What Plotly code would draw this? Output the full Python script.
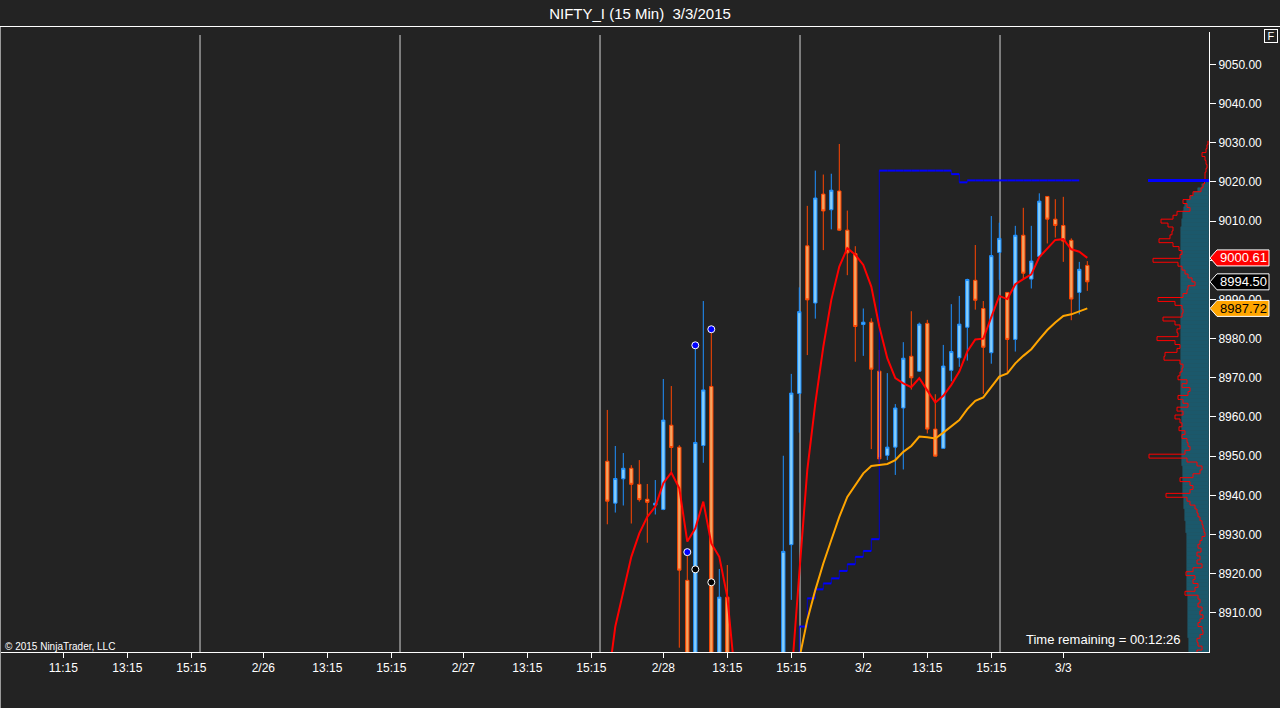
import plotly.graph_objects as go

BG = "#232323"
FONT = "Liberation Sans, Arial, sans-serif"

# ---------------- data ----------------
bars_per_day = 25
session_days = ["2/25", "2/26", "2/27", "2/28", "3/2", "3/3"]

# 15-minute OHLC, sessions 2/28 (day 3), 3/2 (day 4), 3/3 (day 5, forming)
feb28_open = [8948.7, 8938.0, 8944.2, 8946.9, 8942.8, 8939.0, 8937.5, 8936.4, 8957.9, 8952.3,
              8918.3, 8876.0, 8952.7, 8967.8, 8884.0, 8914.0, 8872.0, 8848.0, 8838.0, 8852.0,
              8843.0, 8836.0, 8866.0, 8927.4, 8966.0]
feb28_high = [8961.8, 8952.6, 8950.8, 8947.7, 8949.0, 8942.9, 8943.9, 8969.7, 8967.9, 8952.8,
              8924.5, 8979.0, 8989.6, 8982.5, 8921.2, 8922.2, 8893.0, 8866.0, 8858.0, 8870.0,
              8860.0, 8872.0, 8950.1, 8971.0, 8993.1]
feb28_low = [8932.6, 8935.6, 8937.4, 8932.8, 8938.4, 8927.9, 8935.1, 8936.2, 8946.0, 8901.1,
             8868.0, 8862.0, 8948.3, 8872.0, 8870.0, 8866.0, 8840.0, 8828.0, 8822.0, 8840.0,
             8830.0, 8832.0, 8860.0, 8913.3, 8956.0]
feb28_close = [8938.5, 8944.3, 8946.9, 8942.8, 8938.9, 8938.2, 8938.0, 8959.2, 8952.2, 8920.9,
               8876.0, 8953.5, 8966.9, 8884.0, 8914.0, 8872.0, 8848.0, 8838.0, 8852.0, 8843.0,
               8836.0, 8866.0, 8925.7, 8966.1, 8986.9]

mar02_open = [9003.7, 8989.1, 9016.9, 9012.9, 9017.7, 9007.7, 9001.7, 8983.6, 8984.2, 8971.7,
              8950.2, 8952.3, 8962.3, 8975.5, 8971.7, 8983.9, 8956.9, 8952.0, 8971.9, 8975.1,
              8982.9, 8994.9, 8987.7, 8976.4, 9002.0]
mar02_high = [9013.9, 9022.9, 9021.9, 9022.1, 9029.7, 9012.7, 9003.6, 8987.7, 8985.2, 8977.1,
              8971.2, 8963.3, 8979.1, 8987.0, 8984.1, 8984.8, 8965.8, 8978.4, 8988.8, 8990.9,
              8995.3, 9003.9, 8989.6, 9011.3, 9009.6]
mar02_low = [8975.8, 8985.1, 9002.6, 9007.9, 9007.5, 8996.2, 8974.1, 8975.6, 8951.8, 8948.2,
             8949.0, 8945.2, 8946.6, 8967.0, 8971.5, 8955.8, 8950.0, 8952.0, 8969.1, 8972.8,
             8974.4, 8987.4, 8965.9, 8973.6, 8995.0]
mar02_close = [8989.9, 9015.9, 9012.6, 9017.9, 9007.7, 9001.9, 8983.1, 8984.2, 8972.2, 8949.3,
               8952.3, 8962.3, 8975.0, 8970.0, 8983.7, 8956.9, 8950.0, 8973.0, 8976.7, 8983.7,
               8995.1, 8989.8, 8977.8, 9001.2, 9005.6]

mar03_open = [8991.8, 8979.8, 9006.4, 8995.2, 9001.0, 9016.3, 9010.5, 9008.9, 9005.1, 8991.8, 8998.7]
mar03_high = [8991.8, 9008.8, 9013.4, 9008.8, 9017.1, 9016.4, 9015.6, 9016.2, 9005.6, 8999.6, 8999.8]
mar03_low = [8971.1, 8976.7, 8995.0, 8992.8, 9001.0, 9004.3, 9005.8, 8999.6, 8984.7, 8986.2, 8992.2]
mar03_close = [8979.8, 9006.4, 8996.7, 8999.8, 9015.1, 9010.5, 9008.9, 9004.9, 8990.1, 8997.7, 8994.5]

# fast (red) and slow (orange) moving averages, per bar
feb28_fast = [8891.0, 8906.5, 8915.4, 8924.3, 8930.3, 8934.5, 8937.1, 8943.1, 8945.8, 8941.8,
              8928.2, 8931.6, 8938.4, 8927.7, 8924.3, 8914.1, 8893.0, 8878.0, 8866.0, 8858.0,
              8850.0, 8842.0, 8863.0, 8893.0, 8920.1]
mar02_fast = [8946.5, 8963.5, 8977.9, 8989.9, 8998.4, 9003.1, 9001.4, 8998.8, 8993.3, 8983.1,
              8975.0, 8969.9, 8968.6, 8967.6, 8969.9, 8966.8, 8963.7, 8965.4, 8968.2, 8971.6,
              8976.7, 8979.8, 8980.0, 8985.5, 8990.9]
mar03_fast = [8990.1, 8993.9, 8995.2, 8996.4, 9000.8, 9003.1, 9005.2, 9005.4, 9002.8, 9002.2, 9000.61]

feb28_slow = [None] * 22 + [8884.0, 8890.0, 8898.3]
mar02_slow = [8908.2, 8915.8, 8922.6, 8928.6, 8934.5, 8939.6, 8942.6, 8945.6, 8947.5, 8947.7,
              8948.0, 8949.0, 8951.1, 8952.6, 8955.0, 8954.8, 8954.5, 8956.0, 8957.5, 8959.2,
              8962.0, 8964.1, 8965.0, 8967.6, 8970.3]
mar03_slow = [8971.1, 8973.7, 8975.6, 8977.3, 8979.8, 8982.2, 8984.1, 8985.8, 8986.2, 8986.9, 8987.72]

# blue stepped stop line
feb28_stop = [None] * 23 + [8895.0, 8906.5]
mar02_stop = [8913.7, 8916.0, 8917.5, 8918.8, 8920.7, 8922.4, 8924.3, 8925.8, 8928.8, 9022.9,
              9022.9, 9022.9, 9022.9, 9022.9, 9022.9, 9022.9, 9022.9, 9022.9, 9022.0, 9019.9,
              9020.4, 9020.4, 9020.4, 9020.4, 9020.4]
mar03_stop = [9020.4, 9020.4, 9020.4, 9020.4, 9020.4, 9020.4, 9020.4, 9020.4, 9020.4, 9020.4, None]

# swing markers (session index, bar slot, price)
blue_dots = [(3, 11, 8925.5), (3, 12, 8978.3), (3, 14, 8982.4)]
black_dots = [(3, 12, 8921.1), (3, 14, 8917.8)]

# x-axis labels (bar slots 8, 16, 24 of each session)
tick_slots = [8, 16, 24]
tick_labels = ["11:15", "13:15", "15:15", "2/26", "13:15", "15:15", "2/27", "13:15", "15:15",
               "2/28", "13:15", "15:15", "3/2", "13:15", "15:15", "3/3"]
y_tick_values = [8910, 8920, 8930, 8940, 8950, 8960, 8970, 8980, 8990, 9000,
                 9010, 9020, 9030, 9040, 9050]

# volume profile (1-point levels from 8900 upward)
profile_low = 8900
profile_volume = [12, 7, 11, 12, 9, 6, 7, 11, 9, 6,
                  9, 7, 11, 9, 11, 24, 14, 11, 16, 14,
                  23, 16, 7, 12, 9, 12, 8, 11, 9, 7,
                  4, 5, 6, 7, 9, 11, 12, 14, 19, 22,
                  43, 19, 16, 19, 29, 16, 9, 7, 12, 22,
                  60, 24, 19, 21, 22, 27, 24, 30, 27, 29,
                  34, 26, 32, 21, 26, 31, 21, 19, 27, 22,
                  31, 29, 27, 26, 29, 45, 44, 32, 29, 34,
                  52, 31, 32, 29, 34, 46, 27, 26, 27, 34,
                  51, 26, 22, 21, 14, 17, 21, 24, 27, 31,
                  56, 29, 27, 30, 36, 50, 39, 37, 36, 41,
                  48, 36, 32, 19, 22, 26, 19, 16, 8, 6,
                  4.5, 4, 4, 3, 2, 3, 4, 7, 3, 2, 1]
profile_base = [20, 20, 20, 20, 21, 21, 21, 21, 21, 21, 21, 21, 21, 21, 21, 22,
                22, 22, 22, 22, 22, 22, 22, 22, 22, 22, 22, 22, 22, 22, 22,
                23, 23, 23, 24, 24, 24, 25, 25, 25, 26, 26, 26, 26, 26, 26,
                26, 26, 27, 27, 27, 27, 27, 27, 27, 27, 27, 27, 27, 27, 27,
                27, 28, 28, 28, 28, 28, 28, 28, 28, 28, 28, 28, 28, 28, 28,
                28, 28, 28, 28, 28, 28, 28, 28, 28, 28, 28, 28, 28, 28, 28,
                28, 28, 28, 28, 28, 28, 28, 28, 28, 28, 28, 28, 28, 28, 28,
                28, 28, 28, 27, 27, 26, 26,
                25, 24, 22, 19, 15, 11, 7, 3]
poc_len = 61

# ---------------- geometry helpers ----------------
W, H = 1280, 708
ML, MR, MT, MB = 1, 71, 32, 56
PW, PH = W - ML - MR, H - MT - MB
BAR_PX = 8
X0 = (ML + 0.7) / BAR_PX
X1 = X0 + PW / BAR_PX
Y0 = 8900.0
PX_PER_PT = 3.917
Y1 = Y0 + PH / PX_PER_PT


def px(x):
    return (x - ML) / PW


def py(y):
    return (H - MB - y) / PH


def bar_x(day, slot):
    return day * bars_per_day + slot


def day_x(day, n):
    return [bar_x(day, k + 1) for k in range(n)]


xs = day_x(3, 25) + day_x(4, 25) + day_x(5, 11)
o = feb28_open + mar02_open + mar03_open
h = feb28_high + mar02_high + mar03_high
l = feb28_low + mar02_low + mar03_low
c = feb28_close + mar02_close + mar03_close
fast = feb28_fast + mar02_fast + mar03_fast
slow = feb28_slow + mar02_slow + mar03_slow
stop = feb28_stop + mar02_stop + mar03_stop

fig = go.Figure()

# volume profile (overlay axis measured from the price axis leftwards)
levels = [profile_low + i for i in range(len(profile_volume))]
base_levels = [profile_low + i for i in range(len(profile_base))]
fig.add_trace(go.Bar(x=profile_base, y=base_levels, orientation="h", width=1,
                     marker=dict(color="#1B586B", line=dict(color="#225F73", width=0.5)),
                     xaxis="x2", yaxis="y", hoverinfo="skip", showlegend=False))
step_y = [v - 0.5 for v in levels] + [levels[-1] + 0.5]
step_x = profile_volume + [profile_volume[-1]]
fig.add_trace(go.Scatter(x=step_x, y=step_y, mode="lines", line=dict(color="#FF0000", width=1, shape="vh"),
                         xaxis="x2", yaxis="y", hoverinfo="skip", showlegend=False))
fig.add_trace(go.Scatter(x=[0, poc_len], y=[stop[-2], stop[-2]], mode="lines",
                         line=dict(color="#0000FF", width=3), xaxis="x2", yaxis="y",
                         hoverinfo="skip", showlegend=False))

# stepped stop line: horizontal runs (thicker) and vertical jumps (thin)
hx, hy, vx, vy = [], [], [], []
for i in range(len(xs) - 1):
    if stop[i] is None or stop[i + 1] is None:
        continue
    hx += [xs[i], xs[i + 1], None]
    hy += [stop[i], stop[i], None]
    vx += [xs[i + 1], xs[i + 1], None]
    vy += [stop[i], stop[i + 1], None]
fig.add_trace(go.Scatter(x=vx, y=vy, mode="lines", line=dict(color="#0000CC", width=1),
                         hoverinfo="skip", showlegend=False))
fig.add_trace(go.Scatter(x=hx, y=hy, mode="lines", line=dict(color="#0000FF", width=2),
                         hoverinfo="skip", showlegend=False))

fig.add_trace(go.Candlestick(
    x=xs, open=o, high=h, low=l, close=c,
    increasing=dict(line=dict(color="#1E90FF", width=1), fillcolor="#87CEFA"),
    decreasing=dict(line=dict(color="#FF4500", width=1), fillcolor="#F4A460"),
    whiskerwidth=0, hoverinfo="skip", showlegend=False))

fig.add_trace(go.Scatter(x=xs, y=slow, mode="lines", line=dict(color="#FFA500", width=2),
                         hoverinfo="skip", showlegend=False))
fig.add_trace(go.Scatter(x=xs, y=fast, mode="lines", line=dict(color="#FF0000", width=2),
                         hoverinfo="skip", showlegend=False))
fig.add_trace(go.Scatter(x=[bar_x(d, k) for d, k, _ in blue_dots], y=[p for _, _, p in blue_dots],
                         mode="markers", marker=dict(size=7, color="#0000FF", line=dict(color="white", width=1)),
                         hoverinfo="skip", showlegend=False))
fig.add_trace(go.Scatter(x=[bar_x(d, k) for d, k, _ in black_dots], y=[p for _, _, p in black_dots],
                         mode="markers", marker=dict(size=7, color="#000000", line=dict(color="white", width=1)),
                         hoverinfo="skip", showlegend=False))

tick_vals = [bar_x(d, s) for d in range(len(session_days)) for s in tick_slots][:len(tick_labels)]

shapes = []
# session separators
for d in range(len(session_days) - 1):
    xb = bar_x(d, bars_per_day) + 0.09
    shapes.append(dict(type="line", xref="x", yref="paper", x0=xb, x1=xb, y0=0, y1=py(35),
                       line=dict(color="#D4D4D4", width=1), layer="below"))
# panel border lines
shapes.append(dict(type="line", xref="paper", yref="paper", x0=px(0), x1=px(W), y0=py(26.5), y1=py(26.5),
                   line=dict(color="#FFFFFF", width=1)))
shapes.append(dict(type="line", xref="paper", yref="paper", x0=px(0.5), x1=px(0.5), y0=py(27), y1=py(H),
                   line=dict(color="#9A9A9A", width=1)))

annotations = []


def price_tag(price, fill, txt):
    shapes.append(dict(type="path", xref="paper", yref="y", xsizemode="pixel", ysizemode="pixel",
                       xanchor=1, yanchor=price, path="M 1,0 L 8,8 L 60,8 L 60,-8 L 8,-8 Z",
                       fillcolor=fill, line=dict(color="#FFFFFF", width=1), layer="above"))
    annotations.append(dict(xref="paper", yref="y", x=px(1243.5), y=price, text=f"{price:.2f}",
                            showarrow=False, xanchor="center", yanchor="middle",
                            font=dict(family=FONT, size=13, color=txt)))


price_tag(fast[-1], "#FF0000", "#FFFFFF")
price_tag(c[-1], "#000000", "#FFFFFF")
price_tag(slow[-1], "#FFA500", "#000000")

annotations.append(dict(xref="paper", yref="paper", x=px(3), y=py(646), text="© 2015 NinjaTrader, LLC",
                        showarrow=False, xanchor="left", yanchor="middle",
                        font=dict(family=FONT, size=10, color="#FFFFFF")))
annotations.append(dict(xref="paper", yref="paper", x=px(1183), y=py(639), text="Time remaining = 00:12:26",
                        showarrow=False, xanchor="right", yanchor="middle",
                        font=dict(family=FONT, size=13, color="#FFFFFF")))
annotations.append(dict(xref="paper", yref="paper", x=px(1271), y=py(36.5), text="F",
                        showarrow=False, xanchor="center", yanchor="middle", width=12, height=12,
                        bordercolor="#FFFFFF", borderwidth=1, borderpad=0, bgcolor=BG,
                        font=dict(family=FONT, size=11, color="#FFFFFF")))

fig.update_layout(
    width=W, height=H,
    margin=dict(l=ML, r=MR, t=MT, b=MB),
    paper_bgcolor=BG, plot_bgcolor=BG,
    font=dict(family=FONT, color="#FFFFFF", size=12),
    title=dict(text="NIFTY_I (15 Min)\u00a0 3/3/2015", x=0.5, xref="container", xanchor="center",
               y=1 - 13.5 / H, yref="container", yanchor="middle",
               font=dict(family=FONT, size=15, color="#FFFFFF")),
    showlegend=False,
    boxgap=0.4,
    xaxis=dict(range=[X0, X1], showgrid=False, zeroline=False, rangeslider=dict(visible=False),
               tickmode="array", tickvals=tick_vals, ticktext=tick_labels,
               ticks="outside", ticklen=5, tickcolor="#FFFFFF", showline=True, linecolor="#FFFFFF",
               linewidth=1, tickfont=dict(family=FONT, size=12, color="#FFFFFF"), fixedrange=True),
    xaxis2=dict(range=[PW, 0], overlaying="x", visible=False, showgrid=False, zeroline=False),
    yaxis=dict(range=[Y0, Y1], side="right", showgrid=False, zeroline=False,
               tickmode="array", tickvals=y_tick_values, tickformat=".2f",
               ticks="outside", ticklen=6, tickcolor="#FFFFFF", showline=True, linecolor="#FFFFFF",
               linewidth=1, tickfont=dict(family=FONT, size=12, color="#FFFFFF")),
    shapes=shapes,
    annotations=annotations,
    bargap=0,
)

fig.write_html("out.html", config={"displayModeBar": False},
               post_script="document.body.style.margin='0';document.body.style.overflow='hidden';")
